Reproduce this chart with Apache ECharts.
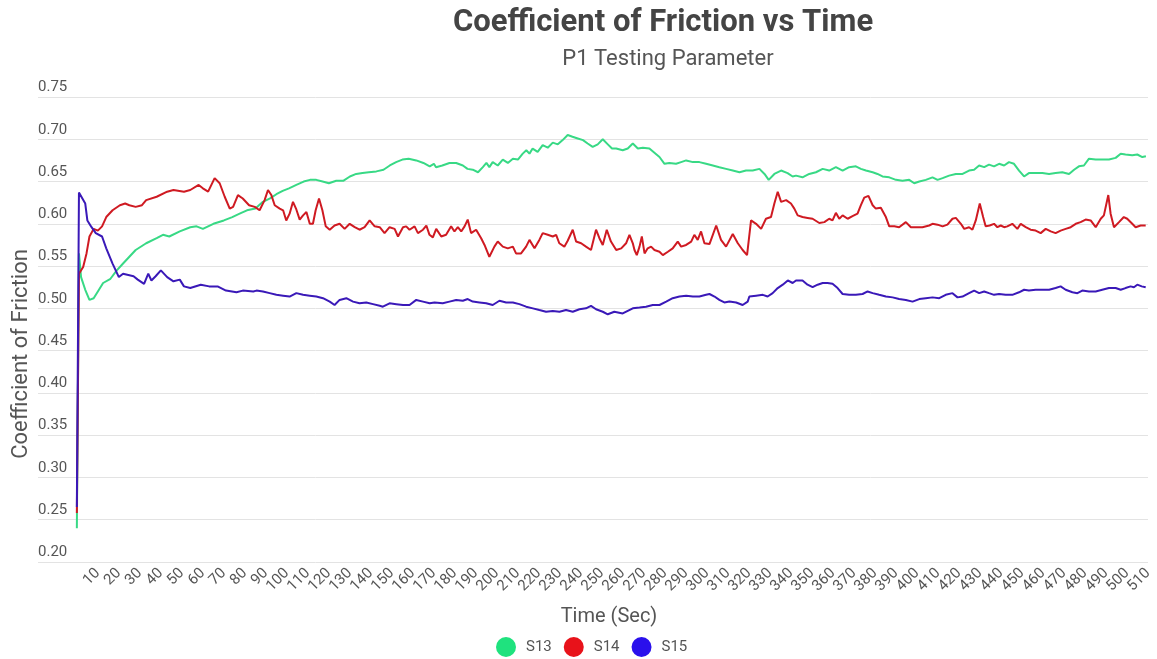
<!DOCTYPE html>
<html>
<head>
<meta charset="utf-8">
<title>Coefficient of Friction vs Time</title>
<script src="https://cdn.jsdelivr.net/npm/echarts@6/dist/echarts.min.js"></script>
<style>
  html, body { margin: 0; padding: 0; background: #fff; }
  #chart { width: 1157px; height: 659px; }
</style>
</head>
<body>
<div id="chart"></div>
<script>
// Friction coefficient samples: [time (s), coefficient]
const s13 = [
  [0,0.240],[1,0.565],[2,0.537],[4,0.522],[6,0.510],[8,0.512],[10,0.520],[12.5,0.530],[16,0.535],[19,0.545],
  [22,0.553],[25,0.561],[28,0.569],[33,0.577],[38,0.583],[41,0.587],[44,0.585],[49,0.591],[54,0.596],[57,0.597],
  [60,0.594],[65,0.600],[70,0.604],[74,0.608],[77.5,0.612],[81,0.616],[85,0.618],
  [88.6,0.626],[92,0.630],[95,0.635],[98,0.639],[101,0.642],[104.5,0.646],[108,0.650],[111,0.652],[114,0.652],
  [117,0.650],[120,0.648],[123.5,0.651],[127,0.651],[130,0.656],[133,0.659],[136,0.660],[139,0.661],[142.6,0.662],
  [146,0.664],[149,0.669],[152,0.673],[155,0.676],[158,0.677],[161.6,0.675],[165,0.672],[168,0.668],[170,0.671],
  [171,0.667],[174,0.669],[177.4,0.672],[180.6,0.672],[183.8,0.669],[186,0.665],[188.5,0.664],[191,0.661],
  [193.3,0.667],[195,0.672],[196.4,0.667],[198,0.673],[200.4,0.669],[202.8,0.676],[205.2,0.672],[207.6,0.677],
  [210,0.676],[212.3,0.683],[214,0.687],[215.5,0.683],[217,0.689],[219.4,0.685],[221.8,0.693],[224.2,0.690],
  [226.6,0.696],[229,0.694],[231.3,0.699],[233.7,0.705],[236,0.703],[238.5,0.701],[241,0.699],[243.2,0.695],
  [245.6,0.691],[248,0.694],[250.4,0.700],[252.8,0.694],[254.8,0.689],
  [256.8,0.689],[259.9,0.687],[262.3,0.689],[264.7,0.695],[267.1,0.689],[269.5,0.690],[272.6,0.689],[275,0.684],
  [277.4,0.679],[279.8,0.671],[282.1,0.672],[285.3,0.671],[287.7,0.673],[290.1,0.675],[293.3,0.673],[296.4,0.673],
  [299.6,0.671],[302.8,0.669],[305.9,0.667],[309.1,0.665],[312.3,0.663],[315.5,0.661],[318.6,0.663],[321.8,0.663],
  [325,0.665],[327.4,0.659],[329.4,0.652],[332.1,0.659],[335.3,0.663],[338.4,0.660],[340.8,0.656],
  [342.4,0.657],[345.5,0.655],[348.7,0.659],[351.9,0.661],[355.1,0.665],[358.2,0.663],[361.4,0.667],[364.6,0.663],
  [367.7,0.667],[370.9,0.668],[373.3,0.665],[375.7,0.663],[378.9,0.661],[381.2,0.659],[383.6,0.656],[386.8,0.655],
  [390,0.652],[393.1,0.651],[396.3,0.652],[398.7,0.648],[401.1,0.650],[404.2,0.652],[407.4,0.655],[409.8,0.652],
  [412.2,0.654],[415.3,0.657],[418.5,0.659],[421.7,0.659],[424.8,0.663],[427.2,0.664],
  [429.6,0.669],[432,0.667],[434.3,0.670],[436.7,0.668],[439.1,0.671],[441.5,0.669],[443.8,0.673],[446.2,0.671],
  [448.6,0.663],[451,0.656],[453.3,0.660],[456.5,0.660],[459.7,0.660],[462.9,0.659],[466,0.660],[469.2,0.661],
  [472.4,0.659],[474.8,0.664],[477.1,0.668],[479.5,0.669],[481.9,0.677],[485.1,0.676],[488.2,0.676],[491.4,0.676],
  [494.6,0.678],[497,0.683],[499.3,0.682],[502.5,0.681],[504.9,0.682],[507.3,0.679],[509,0.680]
];

const s14 = [
  [0,0.258],[1,0.541],[3,0.549],[4.6,0.565],[6,0.585],[8,0.594],[10,0.592],[12,0.597],[14,0.608],[17,0.616],
  [20.5,0.622],[23,0.624],[25,0.622],[28,0.620],[31,0.622],[33,0.628],[38,0.632],[43,0.638],[46,0.640],[51,0.638],
  [54,0.640],[58,0.646],[60,0.642],[62.5,0.638],[65.6,0.654],[68,0.648],[70.4,0.632],[72.8,0.618],[74.4,0.620],
  [76.7,0.634],[79,0.630],[82,0.622],[84.7,0.620],
  [87,0.616],[89.4,0.628],[91,0.640],[92.6,0.634],[94.2,0.622],[96.6,0.618],[98.2,0.616],[99.7,0.604],[101.3,0.612],
  [102.9,0.626],[104.5,0.617],[106.1,0.605],[107.7,0.610],[109.3,0.614],[110.9,0.600],[112.4,0.600],[113.7,0.616],
  [115.3,0.630],[116.9,0.616],[118.5,0.597],[120.4,0.593],[122.7,0.598],[125.1,0.600],[127.5,0.594],[129.9,0.600],
  [132.3,0.596],[134.6,0.593],[137,0.596],[139.4,0.604],[141.8,0.597],[144.2,0.596],[146.5,0.589],[148.9,0.596],
  [151.3,0.594],[152.9,0.585],[155.3,0.596],[156.8,0.597],[158.4,0.593],[160.8,0.597],[162.4,0.589],[164.8,0.593],
  [166.4,0.598],[167.9,0.587],[169.5,0.584],
  [171.1,0.594],[173.5,0.585],[175.8,0.587],[178.2,0.597],[179.8,0.591],[181.4,0.596],[183,0.591],[184.6,0.597],
  [186.1,0.605],[187.7,0.589],[190.1,0.593],[192.5,0.583],[194.1,0.575],[196.4,0.561],[198.8,0.573],[200.4,0.579],
  [202.8,0.573],[205.2,0.571],[207.6,0.573],[209.1,0.565],[211.5,0.565],[213.9,0.573],[215.5,0.581],[217.9,0.571],
  [220.2,0.581],[221.8,0.589],[224.2,0.587],[226.6,0.585],[228.2,0.587],[229.7,0.577],[232.1,0.573],[233.7,0.580],
  [236.1,0.593],[237.7,0.579],[240.1,0.577],[242.4,0.573],[244.8,0.569],[247.2,0.593],[248.8,0.583],[250.4,0.575],
  [252.3,0.593],[254.3,0.579],
  [256.8,0.569],[259.2,0.571],[261.5,0.577],[263.1,0.587],[264.7,0.577],[265.5,0.569],[266.6,0.563],[267.9,0.573],
  [269,0.585],[270.3,0.565],[271.8,0.571],[273.4,0.573],[275,0.569],[277.4,0.567],[279,0.563],[281.4,0.567],
  [283.7,0.571],[286.1,0.579],[287.7,0.573],[290.1,0.575],[292.5,0.579],[294,0.587],[295.6,0.581],[297.2,0.591],
  [298.8,0.577],[301.2,0.576],[302.8,0.587],[304.4,0.598],[306.7,0.581],[309.1,0.573],[312.3,0.588],[314.7,0.577],
  [317,0.569],[319.1,0.563],[321,0.604],[323.4,0.600],[325.8,0.594],[328.1,0.606],[330.5,0.608],[332.1,0.624],
  [333.7,0.638],[335.3,0.626],[337.7,0.628],[340,0.624],[341.6,0.618],
  [343.2,0.610],[345.5,0.608],[347.9,0.607],[350.3,0.606],[353.5,0.601],[355.9,0.602],[358.2,0.606],[359.8,0.604],
  [361.4,0.613],[363,0.606],[364.6,0.610],[367,0.606],[369.3,0.609],[371.7,0.612],[373.3,0.622],[374.9,0.631],
  [376.9,0.633],[378.9,0.622],[380.4,0.618],[382.8,0.619],[385.2,0.608],[386.8,0.597],[389.2,0.597],[391.5,0.596],
  [394.7,0.602],[397.1,0.596],[399.5,0.596],[402.6,0.596],[405.8,0.598],[407.4,0.600],[409.8,0.599],[412.2,0.597],
  [414.5,0.599],[416.9,0.606],[418.5,0.607],[420.9,0.600],[422.5,0.594],[424.8,0.596],[426.4,0.593],
  [428,0.604],[429.9,0.624],[431.5,0.608],[432.7,0.597],[434.6,0.598],[436.7,0.600],[438.3,0.596],[439.9,0.598],
  [441.5,0.596],[443,0.597],[445.4,0.600],[447.8,0.594],[449.4,0.600],[451.8,0.596],[454.1,0.593],[456.5,0.592],
  [458.9,0.589],[461.3,0.594],[463.7,0.591],[466,0.589],[468.4,0.592],[470.8,0.594],[473.2,0.596],[475.6,0.600],
  [477.9,0.602],[480.3,0.605],[482.7,0.604],[485.1,0.596],[487.5,0.606],[489,0.610],[491.1,0.634],[492.2,0.612],
  [493.8,0.596],[496.2,0.602],[498.5,0.608],[500.1,0.606],[502.5,0.600],[504.1,0.596],[506.5,0.598],[508.9,0.598]
];

const s15 = [
  [0,0.265],[1,0.637],[4,0.624],[5,0.604],[7,0.596],[9,0.589],[12,0.585],[14,0.571],[17,0.553],[20,0.537],
  [22,0.541],[27,0.538],[29,0.534],[32,0.529],[34,0.541],[35.5,0.533],[37.5,0.538],[40,0.545],[43,0.537],[46,0.532],
  [49,0.534],[51,0.526],[54,0.524],[59,0.528],[63,0.526],[67,0.526],[71,0.521],[76,0.519],[79,0.521],[84,0.520],
  [85.5,0.521],[88.6,0.520],[91.8,0.518],[95,0.516],[98.2,0.515],[101.3,0.514],[104.5,0.518],[107.7,0.516],
  [110.9,0.515],[114,0.514],[117.2,0.512],[120.4,0.508],[122.7,0.504],[125.1,0.510],[128.3,0.512],[131.5,0.508],
  [134.6,0.506],[137.8,0.507],[141,0.505],[144.2,0.503],[145.7,0.502],[148.9,0.506],[152.1,0.505],[155.3,0.504],
  [158.4,0.504],[161.6,0.510],[164.8,0.508],[168,0.506],[170.3,0.507],
  [174.2,0.506],[177.4,0.508],[180.6,0.510],[183.8,0.509],[186.1,0.511],[188.5,0.508],[191.7,0.507],[194.9,0.506],
  [198,0.504],[201.2,0.509],[204.4,0.507],[207.6,0.507],[210.7,0.505],[213.9,0.502],[217.1,0.500],[220.2,0.498],
  [223.4,0.496],[226.6,0.497],[229.8,0.496],[232.9,0.498],[236.1,0.496],[239.3,0.499],[242.4,0.500],[244.8,0.503],
  [247.2,0.499],[250.4,0.496],[252.8,0.493],[255.9,0.496],
  [259.9,0.494],[262.3,0.497],[264.7,0.500],[267.9,0.501],[271,0.502],[274.2,0.504],[277.4,0.504],[280.6,0.508],
  [283.7,0.512],[286.9,0.514],[290.1,0.515],[293.3,0.514],[296.4,0.514],[299.6,0.516],[301.2,0.517],[303.6,0.514],
  [305.9,0.510],[308.3,0.507],[310.7,0.508],[313.9,0.507],[317,0.504],[319.4,0.508],[320.2,0.514],[323.4,0.515],
  [326.6,0.516],[328.9,0.514],[331.3,0.518],[333.7,0.524],[336.1,0.528],[338.5,0.533],[340.8,0.530],
  [342.4,0.533],[345.5,0.533],[347.9,0.528],[350.3,0.525],[352.7,0.528],[355.1,0.530],[357.4,0.530],[359.8,0.529],
  [362.2,0.524],[364.6,0.517],[367.7,0.516],[370.9,0.516],[374.1,0.517],[376.5,0.520],[378.9,0.518],[382,0.516],
  [385.2,0.514],[388.4,0.513],[391.5,0.511],[394.7,0.510],[397.9,0.508],[401.1,0.511],[404.2,0.512],[407.4,0.513],
  [410.6,0.512],[413.7,0.516],[416.9,0.518],[419.3,0.513],[421.7,0.514],[424.8,0.518],[427.2,0.521],
  [429.6,0.518],[432,0.520],[434.3,0.518],[436.7,0.516],[439.1,0.517],[442.2,0.516],[445.4,0.516],[448.6,0.519],
  [451,0.522],[453.3,0.521],[456.5,0.522],[459.7,0.522],[462.9,0.522],[466,0.524],[468.4,0.526],[470.8,0.522],
  [474,0.519],[476.4,0.518],[478.7,0.521],[481.9,0.520],[485.1,0.520],[488.2,0.522],[491.4,0.524],[494.6,0.524],
  [497,0.522],[499.3,0.524],[501.7,0.526],[503.3,0.525],[504.9,0.528],[507,0.526],[508.9,0.525]
];

const seriesNames = ['S13', 'S14', 'S15'];
const lineColors = ['#38d985', '#cf1a22', '#3a19b8'];
const legendColors = ['#1fe27e', '#e8121a', '#2a10ec'];

// Time tick labels along the bottom axis
const timeTicks = [];
for (let t = 10; t <= 510; t += 10) timeTicks.push(t);

const FONT = 'Roboto, "Noto Sans", sans-serif';
const chart = echarts.init(document.getElementById('chart'), null, { renderer: 'canvas' });

chart.setOption({
  animation: false,
  backgroundColor: '#ffffff',
  textStyle: { fontFamily: FONT },
  grid: { left: 38, right: 9, top: 97, bottom: 97, containLabel: false, outerBoundsMode: 'none' },
  graphic: [
    { type: 'text', x: 663, y: 23, style: { text: 'Coefficient of Friction vs Time', font: 'bold 31px ' + FONT, fill: '#444444', align: 'center', verticalAlign: 'middle' } },
    { type: 'text', x: 668, y: 59, style: { text: 'P1 Testing Parameter', font: '22px ' + FONT, fill: '#555555', align: 'center', verticalAlign: 'middle' } },
    { type: 'text', x: 21, y: 354, rotation: Math.PI / 2, style: { text: 'Coefficient of Friction', font: '22px ' + FONT, fill: '#555555', align: 'center', verticalAlign: 'middle' } },
    { type: 'text', x: 609, y: 617, style: { text: 'Time (Sec)', font: '20px ' + FONT, fill: '#555555', align: 'center', verticalAlign: 'middle' } }
  ],
  legend: {
    left: 496, top: 637, padding: 0,
    icon: 'circle', itemWidth: 20, itemHeight: 20, itemGap: 12,
    textStyle: { fontSize: 15, color: '#555555', fontFamily: FONT, padding: [0, 0, 0, 5] },
    data: seriesNames.map((n, i) => ({ name: n, itemStyle: { color: legendColors[i] } }))
  },
  xAxis: {
    type: 'value',
    min: -18.5, max: 510,
    axisLine: { show: false },
    axisTick: { show: false },
    splitLine: { show: false },
    axisLabel: {
      customValues: timeTicks,
      rotate: 45,
      margin: 9,
      fontSize: 15,
      color: '#555555',
      fontFamily: FONT
    }
  },
  yAxis: {
    type: 'value',
    min: 0.2, max: 0.75, interval: 0.05,
    axisLine: { show: false },
    axisTick: { show: false },
    splitLine: { lineStyle: { color: '#e3e3e3', width: 1 } },
    axisLabel: {
      inside: true,
      margin: 0,
      align: 'left',
      verticalAlign: 'bottom',
      padding: [0, 0, 2, 0],
      fontSize: 15,
      color: '#555555',
      fontFamily: FONT,
      formatter: v => v.toFixed(2)
    }
  },
  series: [s13, s14, s15].map((d, i) => ({
    name: seriesNames[i],
    type: 'line',
    data: d,
    showSymbol: false,
    symbol: 'none',
    lineStyle: { width: 2, color: lineColors[i] },
    itemStyle: { color: lineColors[i] }
  }))
});
</script>
</body>
</html>
